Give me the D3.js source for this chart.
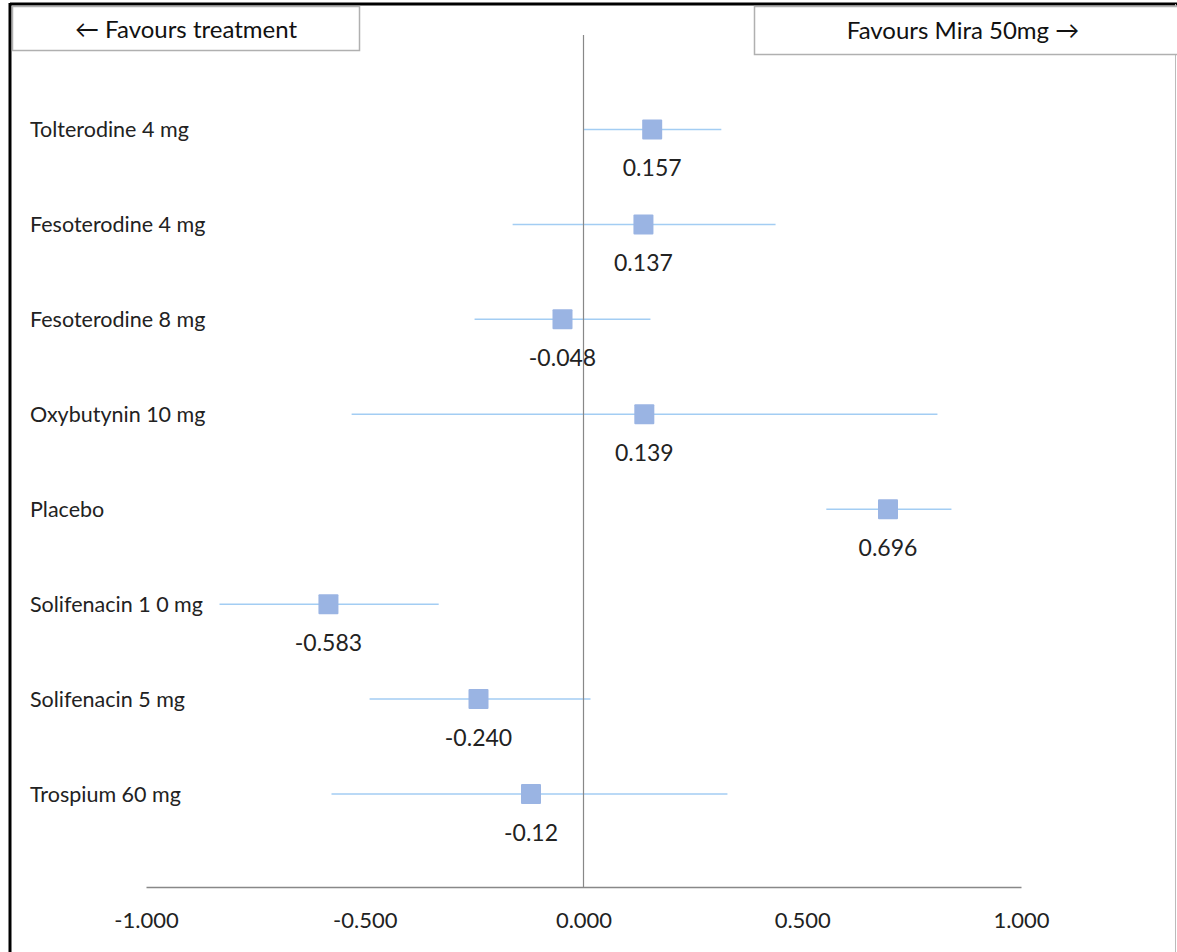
<!DOCTYPE html>
<html>
<head>
<meta charset="utf-8">
<script src="https://cdn.jsdelivr.net/npm/d3@7"></script>
<style>
  body { margin: 0; background: #fff; }
  svg { display: block; font-family: Lato, "Open Sans", sans-serif; }
</style>
</head>
<body>
<div id="chart"></div>
<script>
// Data
const treatments = ["Tolterodine 4 mg", "Fesoterodine 4 mg", "Fesoterodine 8 mg", "Oxybutynin 10 mg",
  "Placebo", "Solifenacin 1 0 mg", "Solifenacin 5 mg", "Trospium 60 mg"];
const estimates = [0.157, 0.137, -0.048, 0.139, 0.696, -0.583, -0.240, -0.12];
const estimateLabels = ["0.157", "0.137", "-0.048", "0.139", "0.696", "-0.583", "-0.240", "-0.12"];
const lowerCI = [0.0, -0.162, -0.249, -0.530, 0.555, -0.832, -0.489, -0.576];
const upperCI = [0.315, 0.439, 0.153, 0.809, 0.841, -0.331, 0.016, 0.329];
const tickValues = [-1, -0.5, 0, 0.5, 1];

const width = 1177, height = 952;

const svg = d3.select("#chart").append("svg")
  .attr("width", width)
  .attr("height", height);

// outer frame
svg.append("rect").attr("x", 0).attr("y", 0).attr("width", width).attr("height", height).attr("fill", "#fff");
svg.append("line").attr("x1", 10).attr("x2", width).attr("y1", 4).attr("y2", 4)
  .attr("stroke", "#000").attr("stroke-width", 3);
svg.append("line").attr("x1", 10).attr("x2", 10).attr("y1", 3).attr("y2", height)
  .attr("stroke", "#000").attr("stroke-width", 3);
svg.append("line").attr("x1", 1175.5).attr("x2", 1175.5).attr("y1", 4).attr("y2", height)
  .attr("stroke", "#bbb").attr("stroke-width", 1);

// header boxes
svg.append("rect").attr("x", 12.5).attr("y", 6.5).attr("width", 347).attr("height", 44)
  .attr("fill", "#fff").attr("stroke", "#b0b0b0").attr("stroke-width", 1.5);
svg.append("text").attr("x", 186).attr("y", 30).attr("dy", "0.35em").attr("text-anchor", "middle")
  .attr("font-size", 24).attr("fill", "#111").text("\u2190 Favours treatment");

svg.append("rect").attr("x", 754.5).attr("y", 6.5).attr("width", 430).attr("height", 48)
  .attr("fill", "#fff").attr("stroke", "#b0b0b0").attr("stroke-width", 1.5);
svg.append("text").attr("x", 963).attr("y", 31).attr("dy", "0.35em").attr("text-anchor", "middle")
  .attr("font-size", 24).attr("fill", "#111").text("Favours Mira 50mg \u2192");

// scales
const x = d3.scaleLinear().domain([-1, 1]).range([146, 1021]);
const y = d3.scalePoint().domain(treatments).range([129.5, 794]);

// x axis
const axisY = 887;
const fmt = d3.format(".3f");
const axis = svg.append("g").attr("transform", `translate(0,${axisY})`)
  .call(d3.axisBottom(x).tickValues(tickValues)
    .tickFormat(d => fmt(d).replace("\u2212", "-")).tickSize(0).tickPadding(25));
axis.select(".domain").attr("stroke", "#888").attr("stroke-width", 1.5);
axis.selectAll("text").attr("font-size", 22).attr("fill", "#222")
  .attr("font-family", "Lato, 'Open Sans', sans-serif");

const rows = treatments.map((t, i) => ({
  name: t, est: estimates[i], label: estimateLabels[i], lo: lowerCI[i], hi: upperCI[i]
}));

// row labels
svg.append("g").selectAll("text").data(rows).enter().append("text")
  .attr("x", 30).attr("y", d => y(d.name)).attr("dy", "0.35em")
  .attr("font-size", 21.5).attr("fill", "#222").text(d => d.name);

// CI lines
svg.append("g").selectAll("line").data(rows).enter().append("line")
  .attr("x1", d => x(d.lo)).attr("x2", d => x(d.hi))
  .attr("y1", d => y(d.name)).attr("y2", d => y(d.name))
  .attr("stroke", "#a3cdf3").attr("stroke-width", 1.5);

// point estimates
const sq = 20;
svg.append("g").selectAll("rect").data(rows).enter().append("rect")
  .attr("x", d => x(d.est) - sq / 2).attr("y", d => y(d.name) - sq / 2)
  .attr("width", sq).attr("height", sq).attr("rx", 1)
  .attr("fill", "#9ab4e3");

// value labels
svg.append("g").selectAll("text").data(rows).enter().append("text")
  .attr("x", d => x(d.est)).attr("y", d => y(d.name) + 38.5).attr("dy", "0.35em")
  .attr("text-anchor", "middle").attr("font-size", 23).attr("fill", "#222")
  .text(d => d.label);

// zero line drawn on top
svg.append("line").attr("x1", x(0)).attr("x2", x(0)).attr("y1", 35).attr("y2", axisY)
  .attr("stroke", "#888").attr("stroke-width", 1.2);
</script>
</body>
</html>
